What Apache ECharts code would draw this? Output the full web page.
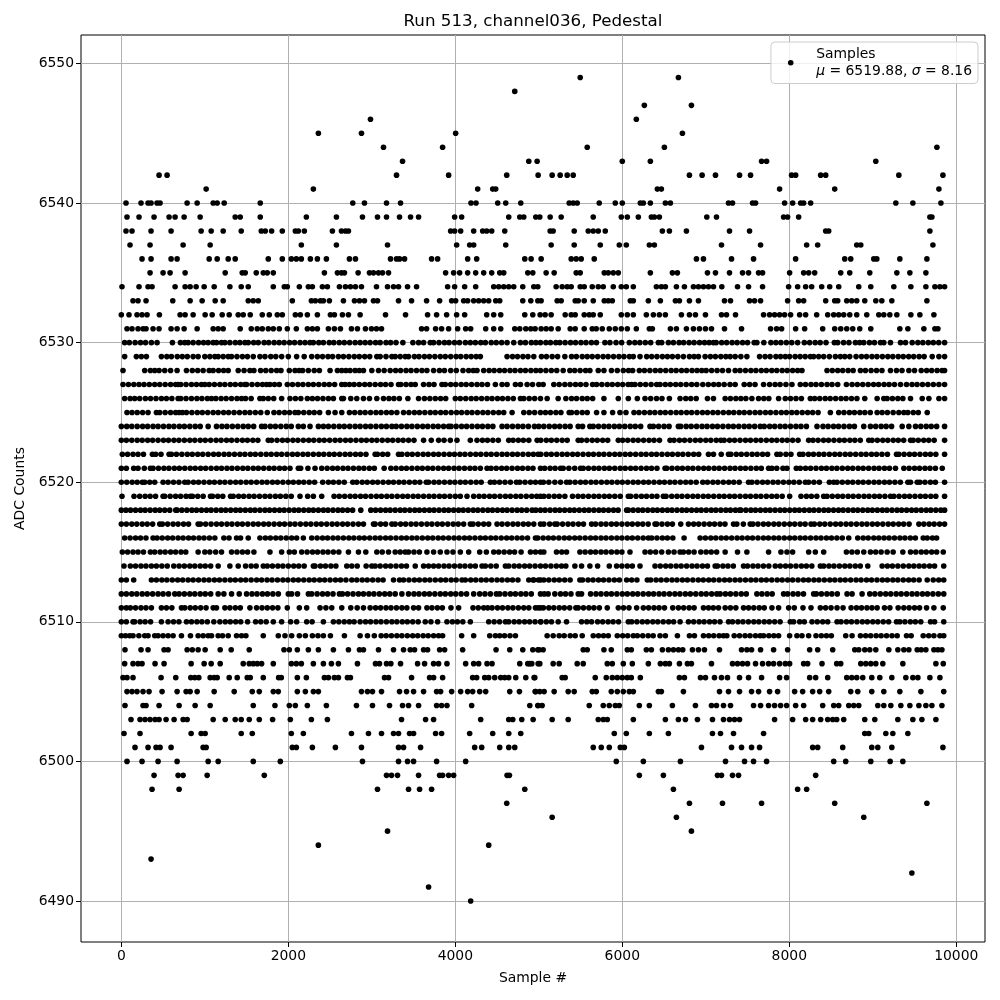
<!DOCTYPE html>
<html><head><meta charset="utf-8">
<style>html,body{margin:0;padding:0;background:#fff}#c{width:1000px;height:1000px}</style>
<script src="https://cdn.jsdelivr.net/npm/echarts@6/dist/echarts.min.js"></script>
</head><body><div id="c"></div>
<script>
const xTicks=[0,2000,4000,6000,8000,10000];
const yTicks=[6490,6500,6510,6520,6530,6540,6550];
const lv6549=[5496,6672];
const lv6548=[4712];
const lv6547=[6264,6828];
const lv6546=[2984,6168];
const lv6545=[2360,2876,4004,6720];
const lv6544=[3140,3848,5580,6504,9768];
const lv6543=[3368,4880,4980,6000,6336,7668,7728,9036];
const lv6542=[452,548,3296,3920,4616,4992,5160,5256,5340,5412,6804,6956,7116,7404,7536,8028,8076,8376,8436,9312,9840];
const lv6541=[1016,2300,4268,4448,4484,6420,6468,7884,8544,9792];
const lv6540=[56,236,320,356,428,464,788,908,1100,1148,1232,1664,2772,2912,3176,3344,4188,4248,4508,4604,4784,5364,5412,5460,5724,5916,6000,6216,6252,6336,6516,6576,7272,7320,7560,7596,7944,8040,8136,8172,8256,9276,9480,9816];
const lv6539=[68,212,392,572,644,752,944,1364,1424,1664,2216,2576,2888,3068,3176,3332,3464,3560,3992,4076,4640,4772,4820,4964,5012,5136,5268,5652,5988,6060,6192,6348,6384,6444,7012,7128,7932,7980,8112,9684,9708];
const lv6538=[56,128,356,596,956,1076,1220,1436,1676,1724,1800,1928,2084,2120,2192,2528,2636,2684,2720,3944,3992,4064,4220,4328,4376,4436,4592,5136,5172,5424,5592,5652,5712,5796,6480,6564,6768,7284,7524,8436,8472,9684];
const lv6537=[104,344,740,1064,2156,2576,3188,4016,4172,4220,4604,5148,5424,5736,5964,6048,6324,6384,7188,7656,8208,8340,8808,8856,9720];
const lv6536=[248,356,596,668,1052,1148,1280,1364,1760,1928,2036,2096,2156,2264,2348,2456,2732,2804,3224,3296,3332,3392,3716,3788,4148,4256,4832,4908,5028,5388,5448,5508,5664,6888,6972,7308,7572,8076,8664,8736,9012,9048,9324,9648];
const lv6535=[344,500,584,764,1244,1448,1484,1616,1700,1748,1820,2432,2588,2636,2672,2836,2972,3020,3080,3128,3200,3884,3980,4052,4148,4244,4340,4436,4532,4580,4868,4928,5088,5184,5448,5496,5784,5832,5892,5952,6336,6600,6660,7020,7116,7284,7440,7512,7632,7680,8004,8172,8232,8304,8616,8724,8964,9288,9444,9636];
const lv6534=[8,212,320,368,644,764,824,896,992,1112,1300,1436,1520,1820,1952,1988,2132,2240,2288,2408,2468,2612,2684,2744,2804,2876,3056,3188,3260,3320,3428,3536,3908,3992,4112,4244,4460,4520,4580,4640,4700,4808,4940,4988,5208,5280,5340,5388,5496,5544,5640,5712,5772,5892,5988,6048,6132,6408,6468,6516,6648,6744,6852,6912,6972,7032,7092,7192,7380,7512,7680,7992,8100,8196,8268,8388,8484,8592,8832,8976,9252,9456,9636,9744,9804,9860];
const lv6533=[140,200,296,616,824,968,1124,1220,1520,1580,1640,2048,2276,2324,2384,2420,2492,2660,2792,2852,2912,3020,3068,3320,3476,3656,3812,3956,4004,4100,4148,4220,4280,4340,4400,4484,4532,4808,4904,4988,5028,5220,5268,5436,5472,5544,5652,5784,5832,5880,6096,6132,6312,6456,6636,6684,6804,6912,7224,7296,7524,7584,7656,7980,8112,8172,8436,8544,8580,8688,8748,8808,8904,9036,9108,9228,9648];
const lv6532=[0,92,188,248,308,456,704,764,860,1004,1088,1208,1292,1400,1460,1544,1688,1772,1868,1928,2084,2144,2228,2348,2504,2552,2648,2720,2860,3164,3404,3668,3776,3896,4016,4112,4376,4460,4544,4832,4928,5016,5076,5148,5316,5388,5436,5544,5604,5652,5736,5988,6060,6132,6288,6372,6444,6516,6708,6804,6876,6996,7188,7248,7356,7692,7764,7824,7884,7944,8016,8124,8196,8328,8460,8532,8592,8652,8724,8808,8928,9072,9132,9204,9288,9456,9564,9732];
const lv6531=[68,128,200,260,296,380,452,596,668,752,908,1100,1160,1220,1424,1556,1628,1688,1760,1820,1892,1988,2096,2228,2288,2348,2480,2552,2624,2756,2828,2924,2996,3056,3116,3596,3656,3764,3836,3920,4028,4124,4184,4364,4460,4544,4712,4772,4844,4904,4956,5028,5088,5148,5232,5376,5436,5544,5640,5688,5760,5844,5916,5988,6060,6168,6324,6360,6576,6648,6768,6852,6924,6996,7068,7224,7428,7776,7848,7908,8076,8184,8400,8544,8616,8688,8760,8844,8976,9324,9420,9612,9744,9780];
const lv6530=[40,96,165,230,290,360,428,612,708,760,800,860,925,985,1040,1100,1140,1200,1240,1300,1365,1420,1480,1520,1585,1640,1710,1765,1830,1890,1950,2015,2075,2140,2200,2260,2300,2365,2420,2490,2545,2610,2670,2735,2800,2860,2920,2980,3045,3100,3170,3225,3290,3372,3492,3560,3620,3700,3740,3805,3870,3925,3990,4050,4120,4180,4240,4305,4360,4430,4490,4555,4620,4700,4780,4840,4910,4965,5020,5085,5140,5204,5252,5315,5380,5440,5505,5565,5630,5690,5792,5852,5925,5992,6084,6150,6210,6275,6340,6432,6472,6552,6612,6680,6735,6800,6860,6925,6985,7040,7092,7124,7190,7250,7315,7375,7440,7500,7580,7612,7695,7780,7840,7900,7965,8030,8100,8180,8244,8310,8370,8440,8540,8580,8650,8715,8792,8844,8892,8960,9020,9092,9132,9212,9332,9392,9472,9540,9600,9665,9725,9790,9860];
const lv6529=[40,180,240,300,480,545,600,670,730,790,860,920,1000,1060,1120,1160,1220,1280,1320,1385,1450,1510,1580,1660,1720,1790,1850,1920,2000,2100,2190,2280,2348,2410,2475,2530,2600,2660,2725,2790,2850,2915,2975,3060,3100,3170,3240,3280,3340,3400,3440,3510,3565,3630,3690,3755,3820,3880,3945,4010,4065,4130,4190,4250,4300,4620,4685,4745,4810,4870,4940,5032,5092,5160,5225,5312,5392,5450,5520,5580,5640,5705,5770,5830,5895,5960,6020,6085,6132,6212,6292,6352,6415,6480,6540,6600,6665,6732,6804,6860,6912,6992,7055,7115,7180,7240,7292,7352,7420,7492,7644,7710,7770,7840,7895,7952,8004,8070,8130,8190,8252,8292,8352,8412,8480,8552,8612,8665,8724,8800,8865,8925,8990,9050,9115,9180,9240,9305,9365,9430,9490,9555,9615,9712,9792,9860];
const lv6528=[20,280,348,400,452,520,590,668,780,850,915,980,1052,1100,1165,1225,1280,1400,1470,1540,1588,1668,1730,1795,1860,1912,2012,2080,2130,2172,2240,2310,2372,2500,2588,2640,2690,2740,2800,2850,2900,3000,3080,3148,3220,3285,3345,3410,3470,3535,3600,3660,3740,3810,3870,3945,4012,4092,4160,4215,4260,4340,4405,4465,4530,4590,4655,4715,4780,4840,4905,4965,5020,5085,5150,5215,5292,5372,5430,5495,5560,5612,5712,5780,5870,5940,6012,6075,6124,6204,6265,6330,6395,6455,6520,6585,6645,6710,6770,6835,6895,6952,7004,7070,7135,7200,7272,7352,7410,7475,7540,7600,7665,7725,7790,7850,7915,7975,8040,8100,8152,8452,8515,8580,8640,8705,8765,8852,8912,8980,9045,9110,9212,9284,9350,9432,9500,9580,9645,9705,9770,9830,9860];
const lv6527=[20,85,150,212,272,335,400,460,525,590,650,680,712,775,840,900,960,1000,1052,1115,1180,1240,1305,1365,1430,1480,1500,1565,1630,1690,1740,1780,1835,1892,1988,2050,2115,2175,2240,2300,2365,2430,2490,2555,2640,2680,2732,2788,2850,2915,2975,3040,3105,3165,3230,3320,3348,3410,3470,3520,3620,3685,3745,3840,3880,3945,4005,4070,4130,4195,4260,4320,4385,4480,4560,4620,4720,4780,4860,4925,5000,5052,5180,5244,5312,5375,5440,5500,5565,5644,5692,5755,5820,5880,5945,6005,6070,6112,6152,6215,6280,6345,6412,6452,6515,6575,6640,6700,6765,6830,6892,6964,7030,7095,7155,7220,7290,7352,7460,7525,7590,7692,7764,7830,7890,7960,8032,8132,8195,8260,8320,8385,8452,8512,8580,8684,8752,8815,8880,8945,9010,9070,9135,9195,9260,9332,9404,9470,9530,9595,9660,9725,9792,9860];
const lv6526=[40,105,160,220,288,350,415,480,540,605,680,712,775,840,905,965,1030,1080,1132,1195,1255,1320,1385,1440,1488,1555,1660,1700,1760,1825,1920,2020,2085,2150,2228,2288,2350,2415,2480,2540,2640,2660,2748,2820,2900,2972,3060,3140,3205,3265,3330,3432,3560,3630,3695,3760,3824,3885,4000,4060,4125,4190,4250,4315,4380,4440,4505,4565,4630,4695,4780,4820,4885,4950,5020,5100,5232,5324,5392,5452,5520,5580,5645,5780,5952,6072,6180,6272,6340,6410,6475,6564,6692,6760,6820,6885,7020,7092,7232,7295,7360,7420,7480,7552,7632,7695,7755,7872,7952,8015,8080,8145,8252,8304,8365,8430,8490,8555,8620,8680,8745,8810,8904,9052,9132,9172,9235,9300,9360,9452,9592,9672,9792,9860];
const lv6525=[68,128,190,255,320,420,460,525,590,650,692,732,780,845,910,970,1035,1100,1160,1225,1285,1350,1415,1480,1540,1605,1670,1748,1828,1890,1955,2015,2080,2120,2185,2250,2310,2375,2480,2560,2640,2732,2795,2860,2920,2985,3050,3110,3175,3235,3300,3380,3445,3510,3570,3635,3700,3760,3825,3885,3950,4015,4075,4140,4200,4265,4330,4390,4455,4520,4580,4680,4820,4885,4950,5020,5080,5140,5205,5265,5364,5392,5455,5520,5580,5692,5780,5884,5972,6044,6140,6200,6265,6330,6390,6455,6515,6580,6645,6705,6770,6830,6895,6960,7020,7085,7145,7210,7275,7335,7400,7460,7525,7590,7650,7715,7775,7840,7905,7965,8030,8090,8155,8220,8280,8345,8492,8592,8655,8720,8780,8845,8905,8970,9052,9112,9175,9244,9312,9372,9420,9485,9545,9652];
const lv6524=[0,65,125,190,255,315,380,440,505,570,630,695,755,820,885,945,1040,1140,1205,1265,1330,1395,1460,1520,1585,1680,1720,1785,1845,1910,1975,2035,2120,2180,2260,2360,2420,2480,2545,2610,2670,2735,2800,2860,2925,2985,3050,3115,3175,3240,3292,3355,3420,3480,3545,3610,3670,3735,3795,3860,3920,3948,4010,4075,4135,4200,4265,4325,4390,4450,4560,4620,4685,4750,4810,4875,4948,5000,5060,5125,5190,5250,5315,5375,5472,5524,5612,5652,5715,5780,5840,5905,5965,6030,6095,6155,6220,6332,6372,6435,6500,6560,6672,6700,6765,6825,6890,6955,7015,7080,7140,7205,7270,7330,7395,7460,7520,7585,7652,7700,7765,7825,7890,7950,8015,8080,8140,8205,8332,8404,8465,8530,8590,8655,8720,8780,8892,8972,9035,9100,9160,9225,9352,9432,9512,9575,9640,9700,9765,9860];
const lv6523=[0,60,125,190,250,315,375,440,505,565,630,690,755,820,880,945,1005,1070,1135,1195,1260,1320,1385,1450,1510,1575,1635,1760,1800,1865,1930,1990,2055,2115,2180,2245,2305,2370,2430,2495,2560,2620,2685,2745,2810,2875,2935,3000,3060,3125,3190,3250,3315,3375,3440,3505,3620,3712,3800,3865,3940,4020,4180,4260,4325,4385,4450,4515,4640,4692,4755,4815,4880,4980,5024,5090,5150,5215,5280,5340,5472,5512,5575,5640,5700,5765,5825,5952,6004,6065,6130,6190,6255,6320,6380,6445,6572,6620,6685,6745,6810,6875,6935,7000,7060,7125,7180,7220,7285,7345,7410,7475,7535,7600,7660,7725,7790,7850,7915,7975,8040,8105,8232,8284,8345,8410,8470,8535,8600,8660,8725,8785,8850,8952,8992,9055,9120,9180,9245,9305,9370,9452,9484,9545,9610,9670,9735,9860];
const lv6522=[12,75,140,200,265,372,412,475,572,600,660,725,790,850,915,975,1040,1105,1165,1230,1290,1355,1420,1480,1545,1605,1670,1735,1795,1860,1920,1985,2050,2110,2175,2235,2300,2365,2425,2490,2550,2615,2680,2740,2805,2865,2930,3040,3068,3130,3190,3320,3360,3425,3485,3550,3615,3675,3740,3800,3865,3930,3990,4055,4115,4180,4245,4305,4370,4430,4495,4560,4620,4685,4745,4810,4875,4935,4992,5024,5090,5150,5215,5280,5340,5405,5465,5530,5595,5655,5720,5780,5845,5910,5970,6035,6095,6160,6225,6285,6350,6410,6475,6540,6600,6665,6725,6790,6855,6915,7032,7092,7185,7272,7300,7365,7425,7490,7555,7615,7680,7740,7852,7892,7960,8020,8124,8164,8230,8290,8355,8415,8480,8545,8605,8670,8730,8795,8860,8920,8985,9045,9110,9175,9284,9312,9375,9440,9500,9565,9630,9690,9755,9860];
const lv6521=[0,60,148,200,275,348,380,445,510,570,635,695,760,825,885,950,1010,1075,1140,1200,1265,1325,1390,1455,1515,1580,1640,1705,1770,1830,1895,1955,2020,2120,2148,2235,2320,2400,2465,2530,2590,2655,2715,2780,2845,2905,2970,3030,3148,3228,3290,3355,3415,3480,3545,3605,3670,3730,3795,3860,3920,3985,4045,4110,4175,4235,4300,4380,4428,4490,4555,4615,4680,4745,4805,4870,4930,5020,5070,5135,5195,5260,5292,5360,5430,5500,5532,5595,5660,5720,5785,5845,5910,5975,6035,6100,6160,6225,6290,6350,6415,6512,6532,6595,6660,6720,6785,6845,6910,6975,7035,7100,7160,7225,7290,7350,7415,7475,7540,7605,7665,7752,7792,7850,7924,7972,8084,8132,8195,8255,8320,8385,8445,8510,8570,8635,8700,8760,8825,8885,8950,9015,9075,9140,9200,9272,9372,9435,9500,9560,9625,9685,9750,9832];
const lv6520=[0,65,130,190,252,280,340,400,500,560,625,690,760,800,865,925,990,1055,1115,1180,1240,1305,1370,1430,1495,1555,1620,1685,1745,1810,1870,1935,2000,2060,2125,2185,2250,2315,2412,2480,2540,2605,2670,2772,2820,2885,2945,3010,3070,3135,3200,3260,3325,3385,3450,3515,3575,3652,3680,3745,3805,3870,3935,3995,4060,4120,4185,4250,4310,4420,4468,4530,4595,4660,4732,4772,4835,4900,4960,5020,5055,5120,5192,5260,5332,5372,5435,5500,5560,5625,5685,5750,5815,5875,5940,6000,6065,6130,6190,6255,6315,6380,6445,6505,6570,6630,6695,6760,6820,6885,6964,7020,7085,7145,7210,7275,7335,7400,7512,7552,7615,7680,7740,7805,7865,7930,7995,8055,8120,8192,8232,8295,8360,8480,8532,8572,8635,8700,8760,8825,8885,8950,9015,9075,9140,9200,9265,9330,9420,9452,9532,9564,9625,9690,9750,9860];
const lv6519=[8,152,220,285,345,410,500,520,585,650,710,775,828,852,915,980,1068,1092,1155,1215,1308,1340,1405,1465,1530,1590,1655,1720,1780,1845,1905,1970,2035,2140,2232,2300,2400,2548,2610,2675,2740,2800,2865,2925,2990,3055,3115,3180,3240,3305,3370,3430,3495,3555,3620,3685,3745,3810,3870,3935,4000,4060,4140,4220,4285,4345,4410,4470,4535,4600,4660,4725,4785,4850,4915,4975,5020,5060,5120,5185,5245,5312,5404,5470,5530,5595,5660,5720,5785,5845,5910,5975,6072,6100,6165,6230,6290,6355,6415,6492,6524,6592,6655,6715,6780,6845,6905,6970,7030,7095,7160,7220,7285,7345,7410,7475,7535,7600,7660,7725,7790,7850,7915,8004,8140,8205,8265,8330,8412,8452,8515,8580,8640,8705,8765,8830,8895,8955,9020,9080,9145,9212,9252,9315,9380,9440,9505,9570,9630,9695,9755,9860];
const lv6518=[0,55,110,170,230,285,345,405,460,520,580,652,668,725,785,845,900,960,1020,1075,1135,1195,1250,1310,1370,1425,1485,1545,1600,1660,1720,1775,1835,1895,1950,2010,2070,2125,2185,2245,2300,2360,2420,2475,2535,2595,2650,2710,2770,2868,2988,3045,3105,3165,3220,3280,3340,3395,3455,3515,3570,3630,3690,3745,3805,3865,3920,3980,4040,4095,4155,4215,4270,4330,4390,4445,4505,4565,4620,4680,4740,4795,4855,4920,4964,5020,5075,5135,5195,5250,5310,5370,5425,5485,5545,5600,5660,5720,5775,5835,5895,5950,6052,6072,6130,6190,6245,6305,6365,6420,6480,6540,6595,6655,6715,6770,6830,6890,6945,7005,7065,7120,7180,7240,7295,7355,7404,7420,7480,7540,7595,7655,7715,7770,7830,7890,7945,8005,8065,8120,8180,8240,8295,8355,8415,8470,8530,8590,8645,8705,8765,8820,8880,8940,8995,9055,9115,9170,9230,9290,9345,9405,9465,9520,9580,9640,9695,9755,9815,9860];
const lv6517=[0,60,125,185,250,310,375,460,492,555,620,680,745,805,920,948,1010,1075,1140,1200,1265,1325,1390,1450,1515,1580,1640,1705,1765,1830,1895,1955,2020,2080,2145,2210,2270,2335,2395,2460,2525,2585,2650,2710,2775,2840,2900,3020,3040,3105,3165,3240,3280,3345,3405,3470,3530,3595,3660,3720,3785,3845,3910,3975,4035,4100,4180,4212,4275,4340,4400,4500,4560,4625,4690,4750,4815,4875,4940,5020,5060,5130,5192,5220,5285,5350,5410,5475,5535,5632,5680,5745,5805,5870,5930,5995,6060,6120,6185,6245,6310,6392,6412,6475,6540,6600,6700,6792,6855,6915,6980,7045,7105,7170,7230,7332,7372,7450,7532,7564,7625,7690,7750,7815,7875,7940,8005,8065,8130,8190,8260,8300,8365,8425,8490,8555,8615,8680,8740,8805,8870,8930,8995,9055,9120,9185,9245,9310,9370,9435,9552,9612,9675,9735,9800,9860];
const lv6516=[40,105,170,230,295,380,428,490,555,615,680,740,805,865,930,990,1055,1120,1228,1290,1380,1428,1520,1660,1725,1785,1850,1910,1975,2040,2100,2180,2280,2345,2410,2470,2535,2595,2660,2725,2785,2850,2910,2975,3040,3100,3165,3225,3290,3355,3415,3480,3540,3605,3670,3730,3795,3855,3920,3985,4045,4110,4170,4235,4300,4360,4425,4485,4550,4615,4675,4740,4800,4865,4960,4988,5052,5115,5175,5240,5305,5365,5430,5490,5555,5620,5680,5745,5805,5870,5935,5995,6060,6120,6185,6250,6312,6352,6415,6480,6540,6605,6740,6932,6995,7060,7120,7185,7245,7310,7375,7435,7500,7560,7625,7690,7750,7815,7875,7940,8005,8065,8130,8190,8255,8320,8380,8445,8505,8570,8635,8712,8820,8885,8945,9012,9072,9135,9195,9260,9325,9385,9450,9510,9604,9652,9715,9764];
const lv6515=[12,75,140,200,265,348,400,465,525,590,650,715,772,920,1000,1060,1130,1200,1320,1385,1450,1512,1588,1780,1920,2012,2072,2160,2225,2290,2350,2415,2475,2540,2605,2720,2840,2928,3060,3125,3200,3280,3340,3400,3440,3505,3570,3660,3740,3820,3900,3972,4060,4160,4292,4372,4460,4520,4585,4650,4710,4788,4900,4960,5020,5060,5212,5275,5332,5492,5555,5620,5680,5745,5805,5870,5935,5995,6092,6272,6335,6400,6472,6552,6620,6692,6732,6795,6860,6940,7004,7065,7130,7232,7380,7492,7752,7900,7972,8040,8232,8312,8412,8684,8750,8815,8892,8972,9035,9100,9172,9244,9360,9452,9515,9580,9640,9705,9765,9844];
const lv6514=[32,108,170,235,295,360,420,485,550,628,692,755,820,880,945,1005,1070,1160,1300,1400,1488,1555,1615,1700,1748,1810,1875,1935,2000,2065,2125,2190,2300,2320,2385,2445,2510,2570,2700,2760,2825,2932,3000,3040,3100,3165,3225,3290,3355,3415,3520,3620,3680,3740,3800,3865,3925,3990,4055,4115,4180,4240,4320,4360,4425,4490,4600,4640,4705,4765,4830,4890,4955,5020,5080,5145,5210,5272,5324,5432,5512,5612,5704,5844,5932,5995,6060,6120,6212,6392,6455,6520,6580,6645,6705,6770,6835,6895,6960,7020,7112,7140,7205,7265,7330,7452,7500,7565,7625,7690,7755,7832,7892,7955,8015,8080,8145,8205,8270,8372,8412,8475,8535,8600,8665,8725,8790,8850,8940,9112,9175,9235,9300,9365,9432,9492,9555,9615,9680,9740,9850];
const lv6513=[0,60,148,360,420,485,545,610,675,735,800,860,925,990,1050,1115,1175,1240,1305,1365,1430,1490,1555,1620,1680,1745,1805,1870,1935,1995,2060,2120,2185,2250,2310,2375,2435,2500,2565,2625,2690,2760,2820,2885,2945,3010,3075,3135,3260,3332,3380,3445,3510,3570,3635,3695,3760,3825,3885,3950,4010,4080,4120,4185,4245,4310,4370,4435,4500,4560,4625,4685,4750,4880,4940,5020,4932,4995,5060,5120,5185,5245,5310,5375,5492,5524,5590,5650,5715,5775,5840,5905,5965,6052,6112,6175,6300,6340,6405,6465,6530,6595,6655,6720,6780,6845,6910,6970,7035,7095,7160,7225,7285,7350,7410,7475,7540,7600,7665,7725,7790,7855,7915,7980,8040,8105,8170,8230,8295,8355,8420,8485,8545,8610,8670,8735,8800,8860,8925,8985,9050,9115,9175,9240,9300,9365,9430,9490,9555,9652,9724,9790,9850];
const lv6512=[0,60,125,185,250,310,375,440,500,565,640,692,755,820,880,945,1005,1070,1160,1228,1320,1412,1500,1565,1625,1690,1750,1815,1880,2000,2040,2110,2240,2280,2345,2410,2470,2535,2612,2648,2710,2775,2840,2900,2965,3025,3090,3155,3215,3280,3360,3440,3505,3565,3630,3690,3755,3820,3880,3945,4005,4070,4135,4220,4292,4355,4420,4492,4532,4595,4660,4720,4785,4845,4910,5020,5065,5112,5192,5260,5320,5385,5472,5512,5620,5685,5745,5810,5870,5935,6000,6060,6125,6185,6250,6315,6375,6440,6500,6565,6630,6690,6755,6815,6880,6945,7005,7070,7132,7172,7235,7295,7360,7425,7485,7612,7672,7735,7795,7932,7980,8045,8105,8170,8292,8324,8385,8450,8510,8575,8692,8752,8872,8964,9025,9090,9155,9215,9280,9340,9405,9470,9530,9595,9655,9720,9785,9850];
const lv6511=[0,60,108,170,235,295,360,480,540,605,720,760,825,885,950,1015,1100,1140,1240,1300,1365,1425,1540,1620,1685,1748,1812,1875,1988,2132,2220,2380,2450,2520,2640,2748,2825,2900,2980,3045,3105,3170,3230,3295,3360,3420,3500,3560,3660,3720,3785,3845,3948,4040,4212,4275,4340,4388,4440,4505,4565,4630,4690,4755,4820,4880,4960,5020,4992,5055,5120,5180,5245,5305,5370,5444,5472,5535,5600,5660,5725,5820,5952,6015,6080,6172,6252,6315,6380,6440,6505,6604,6672,6735,6800,6860,6972,7032,7090,7152,7232,7295,7360,7452,7512,7575,7640,7700,7792,7872,7992,8060,8164,8260,8372,8435,8500,8572,8644,8740,8805,8865,8930,8990,9052,9140,9205,9304,9372,9435,9500,9560,9644,9732,9844];
const lv6510=[0,60,140,160,225,285,350,480,560,625,690,780,840,905,965,1030,1108,1180,1245,1305,1370,1430,1512,1608,1670,1735,1820,1920,2028,2100,2220,2285,2420,2540,2605,2670,2732,2788,2860,2925,2985,3050,3110,3175,3240,3300,3365,3425,3490,3555,3640,3708,3788,3900,3965,4025,4090,4180,4400,4465,4530,4600,4640,4705,4765,4830,4890,4955,5020,5025,5090,5152,5232,5332,5512,5575,5632,5704,5765,5830,5890,5955,6072,6112,6175,6240,6300,6365,6425,6490,6555,6615,6692,6792,6855,6920,6980,7045,7105,7170,7272,7320,7385,7445,7510,7575,7635,7700,7760,7825,7890,8012,8052,8124,8180,8272,8335,8400,8460,8572,8620,8685,8745,8810,8875,8935,9000,9060,9125,9190,9284,9324,9385,9450,9510,9575,9692,9740,9850];
const lv6509=[0,50,100,140,210,280,320,400,440,500,560,620,720,828,920,980,1040,1080,1160,1212,1280,1380,1440,1492,1700,1880,1960,2040,2132,2204,2288,2355,2420,2504,2672,2860,2948,3030,3112,3172,3235,3300,3360,3425,3490,3550,3615,3675,3740,3800,3848,4076,4220,4412,4480,4532,4590,4655,4720,5100,5172,5244,5304,5376,5436,5520,5652,5715,5775,5832,5940,6005,6065,6132,6180,6245,6310,6370,6452,6516,6660,6804,6864,6972,7035,7095,7160,7212,7252,7340,7404,7470,7530,7595,7652,7692,7755,7815,7872,8004,8092,8152,8232,8320,8384,8445,8504,8676,8752,8852,8915,8975,9040,9100,9165,9230,9292,9404,9460,9604,9670,9732,9804,9850];
const lv6508=[44,236,320,512,560,788,850,920,1004,1184,1316,1532,1948,2012,2108,2240,2360,2540,2720,2852,2900,3080,3260,3380,3460,3512,3620,3668,3812,3872,4088,4488,4652,4808,4928,4988,5004,5052,5532,5580,5780,5868,6060,6108,6288,6348,6480,6552,6612,6672,6724,6840,6912,6984,7164,7428,7492,7548,7656,7812,7980,8244,8340,8520,8784,8832,8904,8964,9036,9192,9300,9372,9432,9532,9580,9636,9732,9780,9828];
const lv6507=[40,140,200,248,404,512,836,992,1076,1184,1460,1532,1580,1628,1680,1820,2036,2096,2156,2300,2420,2516,2600,2828,3044,3092,3176,3228,3344,3548,3632,3740,3800,3900,4124,4220,4280,4380,4440,4772,4868,4916,5012,4892,4992,5172,5244,5460,5532,5820,5880,6012,6120,6312,6456,6516,6564,6684,6780,6828,7068,7320,7380,7440,7500,7596,7680,7752,7812,7884,7952,8004,8172,8220,8392,8568,8616,8856,8916,8976,9036,9120,9360,9756,9844];
const lv6506=[20,68,140,476,652,832,880,928,1064,1112,1148,1292,1388,1508,1544,1700,1884,1916,2108,2216,2432,2480,2552,2600,2708,2744,3152,3200,3476,3692,3740,3848,4208,4256,4352,4400,4472,4544,4592,4640,4724,4844,4952,4944,5280,5316,5676,5808,5880,5940,6000,6060,6108,6216,6684,6744,6936,6996,7104,7188,7260,7404,7512,7668,7884,7968,8244,8316,8460,8688,8748,8808,8880,8988,9084,9228,9396,9480,9540,9684,9804];
const lv6505=[68,128,188,260,332,488,668,776,824,908,1112,1352,1568,1652,1820,1880,2108,2204,2300,2360,2876,2948,3008,3116,3332,3416,3500,3620,3776,3824,3956,4064,4148,4208,4292,4364,4652,4768,4964,5012,4956,5064,5184,5352,5424,5640,5688,5868,5940,6012,6084,6132,6432,6468,6732,7164,7272,7404,7548,7632,7764,7860,8064,8160,8280,8364,8472,8736,8820,8988,9132,9324,9576,9850];
const lv6504=[44,260,296,452,692,884,1064,1580,1840,2012,2084,2228,2456,2816,3008,3212,3368,3440,3560,3776,3836,3900,4196,4892,4988,4992,5040,5604,5772,5844,5916,5964,6204,6324,6600,6876,7068,7128,7212,7296,7572,7656,7752,7824,7896,7968,8076,8172,8400,8532,8592,8712,8772,8832,9060,9132,9216,9336,9444,9552,9636,9708,9828];
const lv6503=[116,224,284,344,404,452,536,632,740,788,1100,1244,1364,1436,1532,1652,1812,2024,2276,2468,3356,3644,3740,4304,4640,4688,4796,4932,5160,5352,5712,5772,5820,6132,6516,6672,6756,6900,7080,7212,7284,7344,7404,7824,8040,8196,8280,8376,8460,8520,8568,8652,8904,9024,9300,9480,9588,9756];
const lv6502=[32,224,836,956,1004,1436,1568,2036,2180,2756,2960,3116,3260,3320,3452,3500,3764,3836,4172,4448,4640,4784,5904,6048,6324,6552,7080,7176,7332,7692,8904,8952,9156,9240,9420];
const lv6501=[164,320,416,464,596,980,1016,2048,2096,2288,2564,2876,3320,3380,3584,4232,4316,4532,4640,4712,5652,5748,5844,5976,6024,6948,7308,7428,7548,7644,8280,8340,8640,8988,9060,9228,9840];
const lv6500=[68,248,440,668,1040,1160,1580,1904,2888,3320,3428,3500,3776,4124,5928,6252,6696,7236,7464,7572,7728,8532,8676,8976,9208,9360];
const lv6499=[392,680,740,1028,1712,3176,3236,3308,3560,3812,3848,3920,3980,4620,4648,6204,6492,7140,7188,7320,7392,8316];
const lv6498=[368,692,3068,3440,3572,3716,4832,6612,8100,8208];
const lv6497=[4616,6804,7200,7668,8544,9648];
const lv6496=[5160,6648,8892];
const lv6495=[3188,6828];
const lv6494=[2360,4400];
const lv6493=[356];
const lv6492=[9468];
const lv6491=[3680];
const lv6490=[4184];
const levels=[[6549,lv6549],[6548,lv6548],[6547,lv6547],[6546,lv6546],[6545,lv6545],[6544,lv6544],[6543,lv6543],[6542,lv6542],[6541,lv6541],[6540,lv6540],[6539,lv6539],[6538,lv6538],[6537,lv6537],[6536,lv6536],[6535,lv6535],[6534,lv6534],[6533,lv6533],[6532,lv6532],[6531,lv6531],[6530,lv6530],[6529,lv6529],[6528,lv6528],[6527,lv6527],[6526,lv6526],[6525,lv6525],[6524,lv6524],[6523,lv6523],[6522,lv6522],[6521,lv6521],[6520,lv6520],[6519,lv6519],[6518,lv6518],[6517,lv6517],[6516,lv6516],[6515,lv6515],[6514,lv6514],[6513,lv6513],[6512,lv6512],[6511,lv6511],[6510,lv6510],[6509,lv6509],[6508,lv6508],[6507,lv6507],[6506,lv6506],[6505,lv6505],[6504,lv6504],[6503,lv6503],[6502,lv6502],[6501,lv6501],[6500,lv6500],[6499,lv6499],[6498,lv6498],[6497,lv6497],[6496,lv6496],[6495,lv6495],[6494,lv6494],[6493,lv6493],[6492,lv6492],[6491,lv6491],[6490,lv6490]];
const points=[];
levels.forEach(([adc,xs])=>xs.forEach(x=>points.push([x,adc])));
const font='"DejaVu Sans"';
const chart=echarts.init(document.getElementById('c'),null,{renderer:'canvas'});
chart.setOption({
 animation:false,
 backgroundColor:'#fff',
 title:{text:'Run 513, channel036, Pedestal',left:528,top:8,textAlign:'center',textStyle:{fontFamily:font,fontSize:16.7,fontWeight:'normal',color:'#000'}},
 grid:{left:81,right:15,top:35,bottom:58,show:true,borderColor:'#000',borderWidth:1,backgroundColor:'transparent'},
 xAxis:{type:'value',min:-483,max:10344,name:'Sample #',nameLocation:'middle',nameGap:29,nameTextStyle:{fontFamily:font,fontSize:13.9,color:'#000'},
  axisLine:{show:false,onZero:false},axisTick:{show:true,length:5,customValues:xTicks,lineStyle:{color:'#000',width:1}},
  axisLabel:{customValues:xTicks,fontFamily:font,fontSize:13.9,color:'#000',margin:7,formatter:v=>String(v)},
  splitLine:{show:true,lineStyle:{color:'#b0b0b0',width:1}}},
 yAxis:{type:'value',min:6487.06,max:6552.04,name:'ADC Counts',nameLocation:'middle',nameGap:53,nameRotate:90,nameTextStyle:{fontFamily:font,fontSize:13.9,color:'#000'},
  axisLine:{show:false,onZero:false},axisTick:{show:true,length:5,customValues:yTicks,lineStyle:{color:'#000',width:1}},
  axisLabel:{customValues:yTicks,fontFamily:font,fontSize:13.9,color:'#000',margin:7,formatter:v=>String(v)},
  splitLine:{show:true,lineStyle:{color:'#b0b0b0',width:1}}},
 legend:{right:22,top:42,orient:'vertical',padding:[5,6,5,17],icon:'circle',itemWidth:41,itemHeight:5.6,selectedMode:false,backgroundColor:'rgba(255,255,255,0.8)',borderColor:'#ccc',borderWidth:1,borderRadius:4,
  formatter:()=>'{a|Samples}\n{a|}{i|μ}{a| = 6519.88, }{i|σ}{a| = 8.16}',
  textStyle:{fontFamily:font,fontSize:13.9,color:'#000',rich:{a:{fontFamily:font,fontSize:13.9,color:'#000',lineHeight:17.5},i:{fontFamily:font,fontSize:13.9,fontStyle:'italic',color:'#000',lineHeight:17.5}}},
  data:['Samples']},
 series:[{name:'Samples',type:'scatter',data:points,symbol:'circle',symbolSize:5.6,itemStyle:{color:'#000',opacity:1},silent:true,large:false,z:3}]
});
</script></body></html>
